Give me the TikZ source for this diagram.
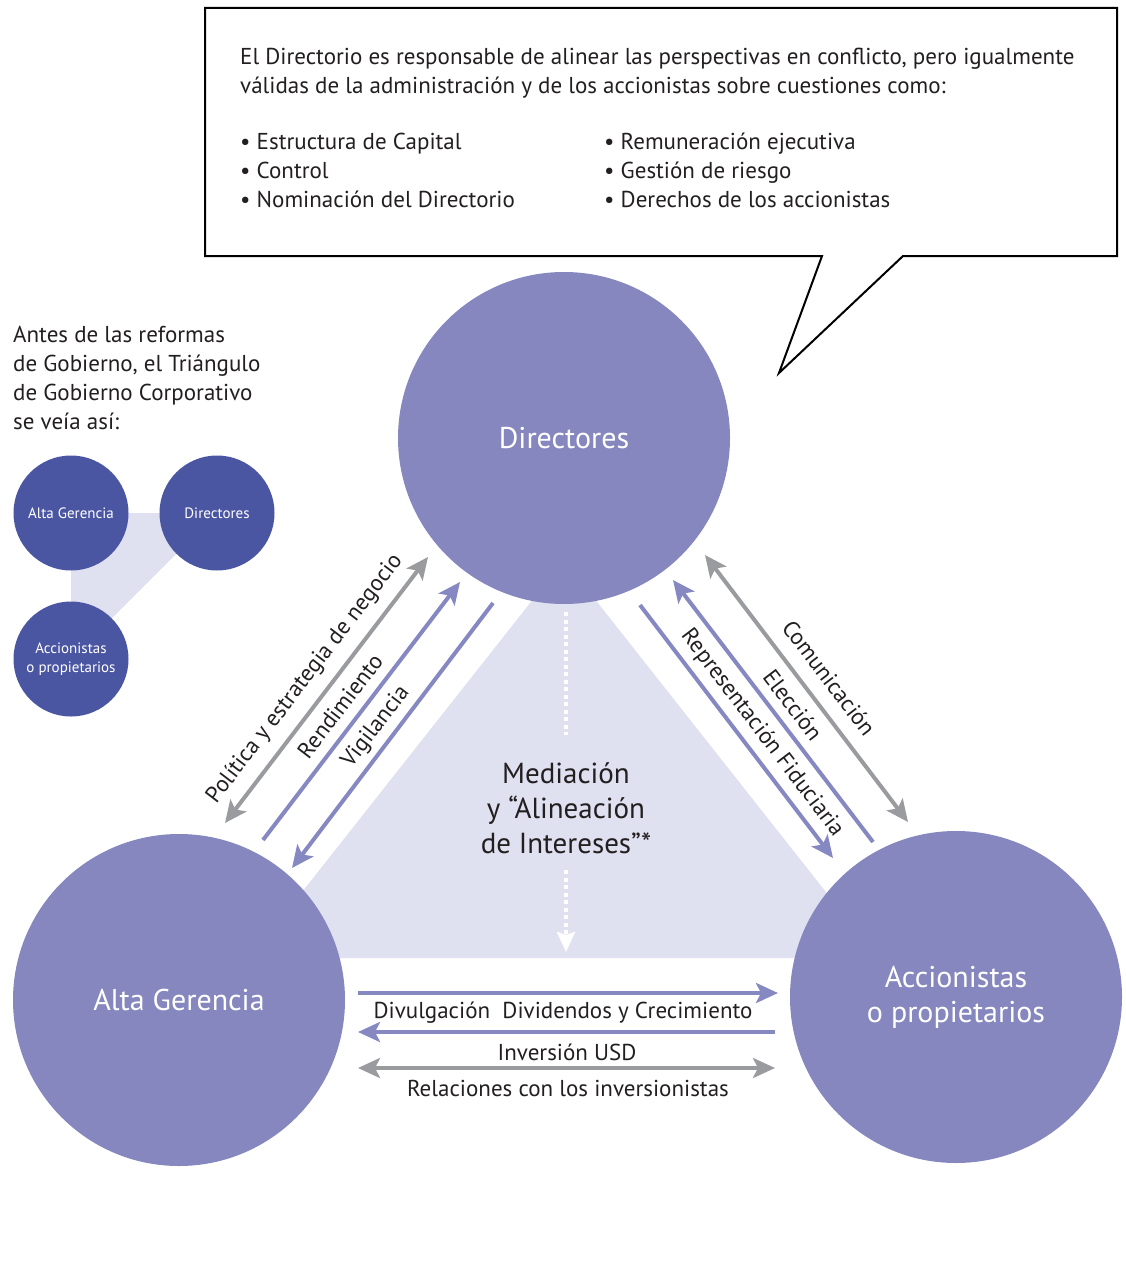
\documentclass[tikz,border=0pt]{standalone}
\usepackage{fontspec}
\setmainfont{PT Sans}
\usetikzlibrary{arrows.meta,backgrounds}
\definecolor{circfill}{HTML}{8587BE}
\definecolor{smallfill}{HTML}{4B56A3}
\definecolor{trifill}{HTML}{DFE0F0}
\definecolor{arrowpurple}{HTML}{8688C1}
\definecolor{arrowgray}{HTML}{9A9B9E}
\definecolor{textdark}{HTML}{231F20}

\begin{document}
\begin{tikzpicture}[x=1pt, y=-1pt,
	bigcircle/.style={circle, fill=circfill, minimum size=332, inner sep=0, text=white, align=center, font=\fontsize{30}{35}\selectfont},
	smallcircle/.style={circle, fill=smallfill, minimum size=115, inner sep=0, text=white, align=center, font=\fontsize{15}{19}\selectfont},
	plaintext/.style={anchor=base west, inner sep=0, text=textdark, font=\fontsize{23}{29}\selectfont},
	arrowlabel/.style={inner sep=0, text=textdark, font=\fontsize{23}{29}\selectfont},
	purplearrow/.style={draw=arrowpurple, line width=4},
	grayarrow/.style={draw=arrowgray, line width=4},
	>={Stealth[length=22, width=20, inset=5]}]
	\useasboundingbox (0,0) rectangle (1125,1281);

	\fill[trifill] (564,560) -- (250,958) -- (878,958) -- cycle;

	\node[bigcircle] (dir) at (564,438) {Directores};
	\node[bigcircle] (alta) at (179,1000) {Alta Gerencia};
	\node[bigcircle] (acc) at (956,997) {Accionistas\\o propietarios};

	\draw[line width=2, fill=white] (205,8) -- (1117,8) -- (1117,256) -- (903,256) -- (779,373) -- (822,256) -- (205,256) -- cycle;
	\node[plaintext] (box1) at (240,65) {El Directorio es responsable de alinear las perspectivas en conflicto, pero igualmente};
	\node[plaintext] (box2) at (240,94) {válidas de la administración y de los accionistas sobre cuestiones como:};
	\foreach \txt [count=\i] in {Estructura de Capital, Control, Nominación del Directorio}
		\node[plaintext] (bl\i) at (240,121+29*\i) {• \txt};
	\foreach \txt [count=\i] in {Remuneración ejecutiva, Gestión de riesgo, Derechos de los accionistas}
		\node[plaintext] (br\i) at (604,121+29*\i) {• \txt};

	\foreach \txt [count=\i] in {Antes de las reformas, {de Gobierno, el Triángulo}, de Gobierno Corporativo, se veía así:}
		\node[plaintext] (intro\i) at (13,313+29*\i) {\txt};

	\foreach \name/\x/\y/\txt in {sa/71/513/Alta Gerencia, sd/217/513/Directores, sc/71/659/{Accionistas\\o propietarios}}
		\node[smallcircle] (\name) at (\x,\y) {\txt};
	\begin{scope}[on background layer]
		\fill[trifill] (sa.center) -- (sd.center) -- (sc.center) -- cycle;
	\end{scope}

	\coordinate (dtop) at (566,612);
	\coordinate (dmid) at (566,735);
	\coordinate (dlow) at (566,870);
	\coordinate (dtip) at (566,952);
	\draw[white, line width=4, dash pattern=on 4 off 3.5] (dtop) -- (dmid);
	\draw[white, line width=4, dash pattern=on 4 off 3.5, -{Stealth[length=20, width=18, inset=3]}] (dlow) -- (dtip);
	\node[arrowlabel, align=center, font=\fontsize{29}{35}\selectfont] (med) at (566,808) {Mediación\\y “Alineación\\de Intereses”*};

	\coordinate (pl1) at (225,823); \coordinate (pl2) at (428,557);
	\coordinate (re1) at (263,840); \coordinate (re2) at (460,582);
	\coordinate (vi1) at (292,868); \coordinate (vi2) at (493,603);
	\draw[grayarrow, <->] (pl1) -- (pl2);
	\draw[purplearrow, ->] (re1) -- (re2);
	\draw[purplearrow, <-] (vi1) -- (vi2);
	\node[arrowlabel, rotate=52.6] (pol) at (305,679) {Política y estrategia de negocio};
	\node[arrowlabel, rotate=52.6] (ren) at (340,706) {Rendimiento};
	\node[arrowlabel, rotate=52.6] (vig) at (376,727) {Vigilancia};

	\coordinate (co1) at (705,555); \coordinate (co2) at (908,822);
	\coordinate (el1) at (673,580); \coordinate (el2) at (873,842);
	\coordinate (rp1) at (640,605); \coordinate (rp2) at (833,858);
	\draw[grayarrow, <->] (co1) -- (co2);
	\draw[purplearrow, <-] (el1) -- (el2);
	\draw[purplearrow, ->] (rp1) -- (rp2);
	\node[arrowlabel, rotate=-52.7] (com) at (829,678) {Comunicación};
	\node[arrowlabel, rotate=-52.7] (ele) at (793,705) {Elección};
	\node[arrowlabel, rotate=-52.7] (rep) at (762,733) {Representación Fiduciaria};

	\coordinate (di1) at (358,993); \coordinate (di2) at (778,993);
	\coordinate (in1) at (358,1032); \coordinate (in2) at (775,1032);
	\coordinate (rl1) at (358,1068); \coordinate (rl2) at (775,1068);
	\draw[purplearrow, ->] (di1) -- (di2);
	\draw[purplearrow, <-] (in1) -- (in2);
	\draw[grayarrow, <->] (rl1) -- (rl2);
	\node[arrowlabel] (div) at (563,1013) {Divulgación\ \ Dividendos y Crecimiento};
	\node[arrowlabel] (inv) at (567,1052) {Inversión USD};
	\node[arrowlabel] (rel) at (568,1088) {Relaciones con los inversionistas};
\end{tikzpicture}
\end{document}
